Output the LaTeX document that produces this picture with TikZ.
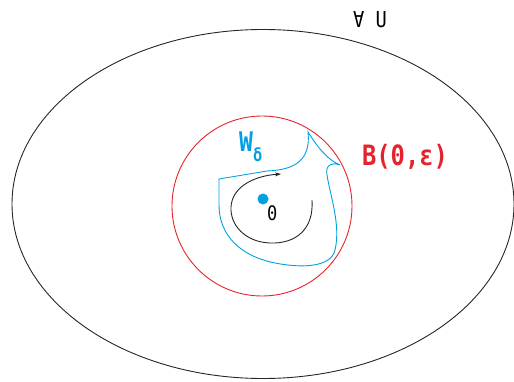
\documentclass[tikz,border=0pt]{standalone}
\usepackage{fontspec}
\setmonofont{DejaVu Sans Mono}
\newfontfamily\lblfont[FakeStretch=0.85]{DejaVu Sans Mono}
\definecolor{setred}{RGB}{230,35,45}
\definecolor{setcyan}{RGB}{0,160,227}
\usetikzlibrary{positioning, arrows.meta}

\begin{document}
\begin{tikzpicture}[
        x=1pt, y=-1pt,
        setline/.style={line width=0.9pt},
        lbl/.style={inner sep=0pt, font=\lblfont\bfseries},
        dot/.style={circle, fill=setcyan, inner sep=0pt, minimum size=11pt}
    ]
        \useasboundingbox (0,0) rectangle (514,382);

        % Outer set and ball
        \draw[setline, black!85] (263,204) ellipse (251 and 174.5);
        \draw[setline, setred] (262,206) circle (90);

        % Neighbourhood W
        \draw[setline, setcyan] (219,179) -- (267,171)
            .. controls (295,170) and (311,160) .. (308,132)
            .. controls (318,148) and (328,160) .. (340,165)
            .. controls (332,162) and (325,165) .. (327,175)
            .. controls (330,195) and (341,225) .. (335,250)
            .. controls (331,268) and (300,268) .. (275,263)
            .. controls (240,256) and (219,235) .. (219,205) -- cycle;

        % Origin and flow
        \node[dot] (O) at (263,199) {};
        \node[inner sep=0pt, font=\lblfont\fontsize{20}{20}\selectfont, below right=2pt and 0pt of O] (Olbl) {0};
        \draw[setline, black!85, -{Stealth[length=6pt, width=4pt]}] (312,200)
            .. controls (314,230) and (295,244) .. (270,243)
            .. controls (245,242) and (230,225) .. (231,207)
            .. controls (232,188) and (252,176) .. (281,174);

        % Labels
        \node[lbl, font=\lblfont\fontsize{22}{22}\selectfont] (U) at (370,20) {∀ U};
        \node[lbl, text=setred, font=\lblfont\bfseries\fontsize{28}{28}\selectfont] (B) at (405,157) {B(0,ε)};
        \node[lbl, text=setcyan, font=\lblfont\bfseries\fontsize{27}{27}\selectfont, anchor=base west] (W) at (239,152)
            {W\raisebox{-10pt}{\fontsize{18}{18}\selectfont δ}};
    \end{tikzpicture}
\end{document}
